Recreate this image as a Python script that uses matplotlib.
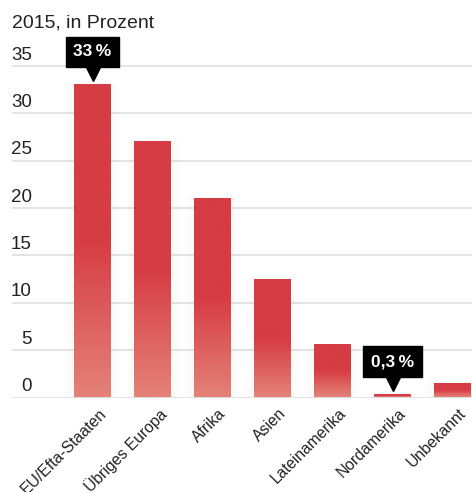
import matplotlib
matplotlib.use("Agg")
import matplotlib.pyplot as plt
import numpy as np
from matplotlib.colors import LinearSegmentedColormap
from matplotlib.patches import Rectangle
from matplotlib.transforms import ScaledTranslation, blended_transform_factory

# Daten
regionen = ['EU/Efta-Staaten', 'Übriges Europa', 'Afrika', 'Asien',
            'Lateinamerika', 'Nordamerika', 'Unbekannt']
anteile = [33, 27, 21, 12.4, 5.5, 0.3, 1.4]
markiert = {0: '33\u2009%', 5: '0,3\u2009%'}
y_ticks = [0, 5, 10, 15, 20, 25, 30, 35]
titel = '2015, in Prozent'

plt.rcParams['font.family'] = ['Liberation Sans', 'DejaVu Sans']

W, H = 472, 492
fig = plt.figure(figsize=(W / 100, H / 100), dpi=100)
# Achse in Pixeln: links 12, rechts 472, unten 397.5, oben 40
ax = fig.add_axes([12 / W, (H - 397.5) / H, 460 / W, 357.5 / H])
ax.axis('off')

# Gitterlinien + y-Beschriftung
ytrans = blended_transform_factory(ax.transAxes, ax.transData)
for t in y_ticks:
    ax.axhline(t, color='#dcdcdc', lw=1.1, zorder=0)
    ax.text(20 / 460, t + 0.25, str(t), transform=ytrans, ha='right', va='bottom',
            fontsize=13.5, color='#222222')

# Farbverlauf: oben rot, unten rosa
rot = (214 / 255, 60 / 255, 68 / 255)
rosa = (228 / 255, 130 / 255, 120 / 255)
cmap = LinearSegmentedColormap.from_list('verlauf', [(0, rosa), (0.5, rot), (1, rot)])
grad = np.linspace(0, 1, 256).reshape(-1, 1)

breite = 37 / 60
off = ScaledTranslation(6 / 100, -8 / 100, fig.dpi_scale_trans)
for i, v in enumerate(anteile):
    x0 = i - breite / 2
    # leichter Schatten
    for k in range(1, 7):
        d = k * 0.012
        ax.add_patch(Rectangle((x0 - d * 2, 0), breite + d * 4, v + d * 4,
                               color='black', alpha=0.005, lw=0, zorder=1))
    ax.imshow(grad, cmap=cmap, origin='lower', aspect='auto',
              extent=(x0, x0 + breite, 0, v), zorder=2, interpolation='bilinear')
    # Kategorie
    ax.text(i, 0, regionen[i], rotation=45, rotation_mode='anchor',
            ha='right', va='top', fontsize=11.3, color='#222222',
            transform=ax.transData + off)

# Hinweisboxen
for i, lab in markiert.items():
    v = anteile[i]
    tri = ScaledTranslation(0, 11 / 100, fig.dpi_scale_trans)
    ax.plot([i], [v], marker='v', ms=10, color='black', mec='black',
            transform=ax.transData + tri, zorder=5, clip_on=False)
    box = ScaledTranslation(0, 33 / 100, fig.dpi_scale_trans)
    ax.text(i, v, lab, ha='center', va='center', color='white', fontsize=12.5,
            fontweight='bold', transform=ax.transData + box, zorder=6,
            bbox=dict(boxstyle='square,pad=0.45', fc='black', ec='black'))

ax.set_xlim(-1.342, 6.325)
ax.set_ylim(0, 357.5 / 9.47)

fig.text(12 / W, 1 - 27 / H, titel, ha='left', va='baseline', fontsize=14,
         color='#222222')

fig.savefig('out.png', dpi=100)
